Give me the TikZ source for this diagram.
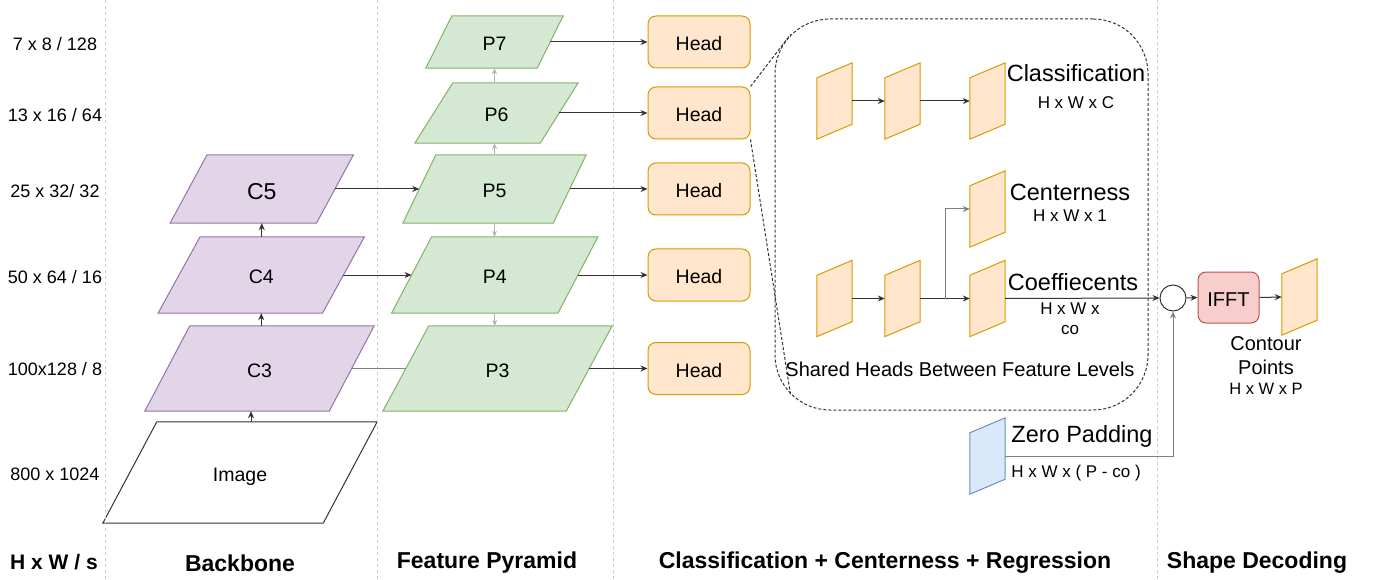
\documentclass[tikz,border=0pt]{standalone}
\usepackage{fontspec}
\setmainfont{Liberation Sans}
\usetikzlibrary{arrows.meta,calc,backgrounds}

\definecolor{purplefill}{HTML}{E1D5E7}
\definecolor{purpleline}{HTML}{9673A6}
\definecolor{greenfill}{HTML}{D5E8D4}
\definecolor{greenline}{HTML}{82B366}
\definecolor{orangefill}{HTML}{FFE6CC}
\definecolor{orangeline}{HTML}{D79B00}
\definecolor{bluefill}{HTML}{DAE8FC}
\definecolor{blueline}{HTML}{6C8EBF}
\definecolor{redfill}{HTML}{F8CECC}
\definecolor{redline}{HTML}{B85450}
\definecolor{darkline}{HTML}{333333}
\definecolor{midline}{HTML}{808080}
\definecolor{lightline}{HTML}{B3B3B3}
\definecolor{sepline}{HTML}{CCCCCC}

\newcommand{\fsize}[1]{\fontsize{#1}{#1}\selectfont}

% slanted map behind a node: name, skew, style
\newcommand{\slantmap}[3]{%
  \begin{pgfonlayer}{background}
  \draw[#3] ($(#1.north west)+(#2/2,0)$) -- ($(#1.north east)+(#2/2,0)$)
    -- ($(#1.south east)-(#2/2,0)$) -- ($(#1.south west)-(#2/2,0)$) -- cycle;
  \end{pgfonlayer}}
% upright map with rising top edge: name, skew, style
\newcommand{\risemap}[3]{%
  \begin{pgfonlayer}{background}
  \draw[#3] ($(#1.north west)+(0,#2/2)$) -- ($(#1.north east)-(0,#2/2)$)
    -- ($(#1.south east)-(0,#2/2)$) -- ($(#1.south west)+(0,#2/2)$) -- cycle;
  \end{pgfonlayer}}

\tikzset{
  lowtext/.style={text height=#1, text depth=0pt},
  mapnode/.style={inner sep=0pt, lowtext=17.5pt, font=\fsize{19.5}},
  headmap/.style={inner sep=0pt, minimum width=35pt, minimum height=61pt},
  cfill/.style={fill=purplefill, draw=purpleline, line width=1pt},
  pfill/.style={fill=greenfill, draw=greenline, line width=1pt},
  ofill/.style={fill=orangefill, draw=orangeline, line width=1pt},
  bfill/.style={fill=bluefill, draw=blueline, line width=1pt},
  headbox/.style={draw=orangeline, fill=orangefill, line width=1pt, rounded corners=8pt,
    minimum width=102pt, minimum height=52pt, lowtext=17.5pt, font=\fsize{19.5}},
  arr/.style={-{Stealth[length=7pt,width=6pt]}, line width=1pt, draw=darkline},
  grayarr/.style={-{Stealth[length=6pt,width=5pt]}, line width=1pt, draw=lightline},
  sizelabel/.style={font=\fsize{18}},
  partlabel/.style={font=\bfseries\fsize{23}},
  dimlabel/.style={font=\fsize{17}},
  biglabel/.style={font=\fsize{23.5}}
}

\begin{document}
\begin{tikzpicture}[x=1pt, y=-1pt]
\useasboundingbox (0,0) rectangle (1379,580);
% column separators
\foreach \sx in {105, 377, 613, 1157} {
  \draw[sepline, line width=1pt, dash pattern=on 3pt off 3pt] (\sx,0) -- (\sx,580);
}
% sizes per level
\node[sizelabel] (s7) at (55,44) {7 x 8 / 128};
\node[sizelabel] (s6) at (55,115) {13 x 16 / 64};
\node[sizelabel] (s5) at (55,191) {25 x 32/ 32};
\node[sizelabel] (s4) at (55,277) {50 x 64 / 16};
\node[sizelabel] (s3) at (55,369) {100x128 / 8};
\node[sizelabel] (s0) at (55,474) {800 x 1024};

% backbone
\node[mapnode, minimum width=220pt, minimum height=101pt] (img) at (240,472.5) {Image};
\slantmap{img}{54}{fill=white, draw=darkline, line width=1pt}
\node[mapnode, minimum width=184pt, minimum height=85pt] (c3) at (259.5,368.5) {C3};
\slantmap{c3}{45}{cfill}
\node[mapnode, minimum width=164pt, minimum height=76pt] (c4) at (261.25,275) {C4};
\slantmap{c4}{42}{cfill}
\node[mapnode, minimum width=146pt, minimum height=68pt, lowtext=20.5pt, font=\fsize{23}] (c5) at (261.75,189) {C5};
\slantmap{c5}{37}{cfill}
\draw[arr] ([xshift=11pt]img.north) -- ([xshift=-8.5pt]c3.south);
\draw[arr] (c4.south |- c3.north) -- (c4.south);
\draw[arr] (c5.south |- c4.north) -- (c5.south);

% feature pyramid
\node[mapnode, minimum width=183pt, minimum height=85pt] (p3) at (497.5,368.5) {P3};
\slantmap{p3}{46}{pfill}
\node[mapnode, minimum width=166pt, minimum height=76pt] (p4) at (494.75,275) {P4};
\slantmap{p4}{40}{pfill}
\node[mapnode, minimum width=150pt, minimum height=68pt] (p5) at (494.5,189) {P5};
\slantmap{p5}{33}{pfill}
\node[mapnode, minimum width=125pt, minimum height=60pt] (p6) at (496.5,113) {P6};
\slantmap{p6}{38}{pfill}
\node[mapnode, minimum width=111pt, minimum height=52pt] (p7) at (494.5,42) {P7};
\slantmap{p7}{26}{pfill}
\draw[grayarr] (p7.south |- p6.north) -- (p7.south);
\draw[grayarr] (p5.north) -- (p5.north |- p6.south);
\draw[grayarr] (p5.south) -- (p5.south |- p4.north);
\draw[grayarr] (p4.south) -- (p4.south |- p3.north);
% lateral links
\draw[arr] (c5.east) -- (p5.west);
\draw[arr] (c4.east) -- (p4.west);
\draw[midline, line width=1pt] (c3.east) -- (p3.west);

% heads
\node[headbox] (hd7) at (699,42) {Head};
\node[headbox] (hd6) at (699,113) {Head};
\node[headbox] (hd5) at (699,189) {Head};
\node[headbox] (hd4) at (699,275) {Head};
\node[headbox] (hd3) at (699,368.5) {Head};
\foreach \lv in {3,...,7} {
  \draw[arr] (p\lv.east) -- (hd\lv.west);
}

% shared head detail
\node[draw=darkline, line width=1pt, dash pattern=on 3pt off 2pt, rounded corners=55pt,
  minimum width=373pt, minimum height=391pt] (shared) at (961.5,214.5) {};
\coordinate (zoomtop) at ($(shared.north west)+(16,16)$);
\coordinate (zoombot) at ($(shared.south west)+(16,-16)$);
\draw[darkline, line width=1pt, dash pattern=on 3pt off 2pt] (hd6.north east) -- (zoomtop);
\draw[darkline, line width=1pt, dash pattern=on 3pt off 2pt] (hd6.south east) -- (zoombot);
\node[font=\fsize{20}] (sharedlbl) at (960,369) {Shared Heads Between Feature Levels};

% classification branch
\node[headmap] (cl1) at (834.5,101) {};
\risemap{cl1}{15}{ofill}
\node[headmap] (cl2) at (902.5,101) {};
\risemap{cl2}{15}{ofill}
\node[headmap] (cl3) at (987.5,101) {};
\risemap{cl3}{15}{ofill}
\draw[arr] (cl1.east) -- (cl2.west);
\draw[arr] (cl2.east) -- (cl3.west);
\node[biglabel] (cllbl) at (1076,73) {Classification};
\node[dimlabel] (cldim) at (1076,103) {H x W x C};

% centerness and coefficient branch
\node[headmap] (ce) at (987.5,209) {};
\risemap{ce}{15}{ofill}
\node[biglabel] (celbl) at (1070,192) {Centerness};
\node[dimlabel] (cedim) at (1070,216) {H x W x 1};
\node[headmap] (rg1) at (834.5,298.5) {};
\risemap{rg1}{15}{ofill}
\node[headmap] (rg2) at (902.5,298.5) {};
\risemap{rg2}{15}{ofill}
\node[headmap] (rg3) at (987.5,298.5) {};
\risemap{rg3}{15}{ofill}
\draw[arr] (rg1.east) -- (rg2.west);
\draw[arr] (rg2.east) -- (rg3.west);
\coordinate (split) at ($(rg2.east)!0.5!(rg3.west)$);
\draw[arr, draw=midline] (split) |- (ce.west);
\node[biglabel] (rglbl) at (1073,282) {Coeffiecents};
\node[dimlabel, align=center, font=\fontsize{17}{20}\selectfont] (rgdim) at (1070,319) {H x W x\\co};

% zero padding
\node[headmap] (zp) at (987.5,456) {};
\risemap{zp}{15}{bfill}
\node[biglabel] (zplbl) at (1082,436) {Zero Padding};
\node[dimlabel] (zpdim) at (1076,473) {H x W x ( P - co )};

% shape decoding
\node[draw=darkline, line width=1pt, circle, minimum size=26pt, inner sep=0pt] (sum) at (1173,298) {};
\node[draw=redline, fill=redfill, line width=1pt, rounded corners=8pt, minimum width=61pt,
  minimum height=51pt, lowtext=18pt, font=\fsize{20}] (ifft) at (1228.5,297.5) {IFFT};
\node[headmap] (out) at (1299.5,297) {};
\risemap{out}{15}{ofill}
\draw[arr] (rg3.east) -- (sum.west);
\draw[arr, draw=midline] (zp.east) -| (sum.south);
\draw[arr] (sum.east) -- (ifft.west);
\draw[arr] (ifft.east) -- (out.west);
\node[align=center, font=\fontsize{20}{24}\selectfont] (outlbl) at (1266,356) {Contour\\Points};
\node[font=\fsize{16.5}] (outdim) at (1266,389) {H x W x P};

% column titles
\node[partlabel, font=\bfseries\fsize{21}] (t0) at (54,562) {H x W / s};
\node[partlabel] (t1) at (240,563) {Backbone};
\node[partlabel] (t2) at (487,563) {Feature Pyramid};
\node[partlabel] (t3) at (885,563) {Classification + Centerness + Regression};
\node[partlabel] (t4) at (1257,563) {Shape Decoding};
\end{tikzpicture}
\end{document}
